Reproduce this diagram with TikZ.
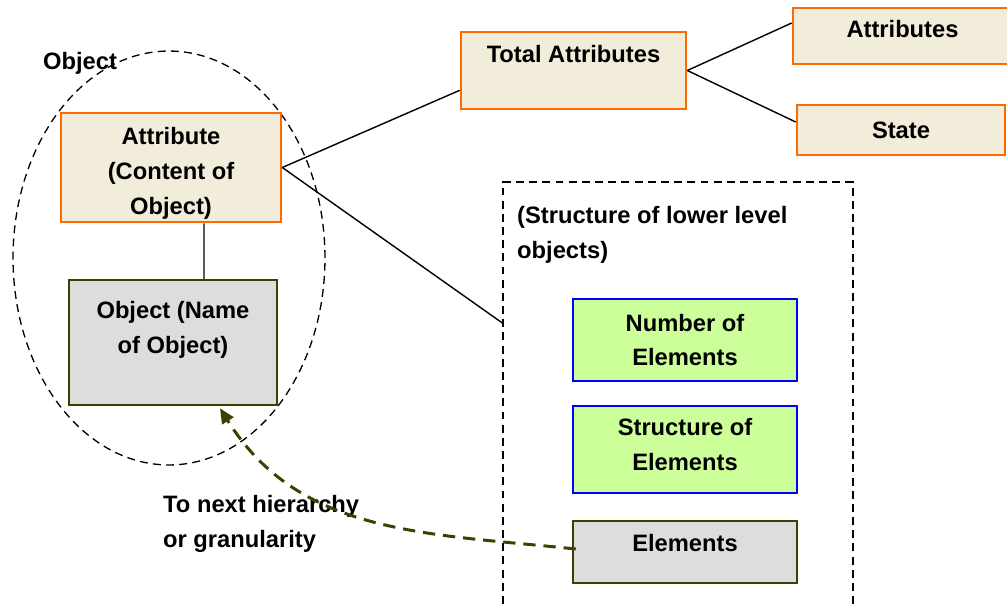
\documentclass[tikz,border=0pt]{standalone}
\usepackage{fontspec}
\setmainfont{Liberation Sans}
\usetikzlibrary{positioning, arrows.meta, shapes.geometric}
\usepackage{xcolor}
\definecolor{xorange}{HTML}{FF6A00}
\definecolor{xcream}{HTML}{F2ECDA}
\definecolor{xgreen}{HTML}{CCFF99}
\definecolor{xblue}{HTML}{0000FF}
\definecolor{xolive}{HTML}{3F3F00}
\definecolor{xgrey}{HTML}{DDDDDD}
\tikzset{
	every node/.style={font=\fontsize{13.5}{19.9}\selectfont\bfseries},
	attrbox/.style={draw=xorange, fill=xcream, line width=1.5pt, align=center},
	elembox/.style={draw=xblue, fill=xgreen, line width=1.3pt, align=center},
	namebox/.style={draw=xolive, fill=xgrey, line width=1.4pt, align=center},
	groupline/.style={line width=0.75pt, dash pattern=on 4.5pt off 3pt},
	link/.style={line width=0.8pt},
	toplabel/.style={anchor=north, align=center, inner sep=2pt},
	hierarchy/.style={xolive, line width=1.7pt, dash pattern=on 7pt off 4.5pt, -{Triangle[length=0.3cm, width=0.26cm]}},
}

\begin{document}
\begin{tikzpicture}[x=0.02cm, y=-0.02cm]
	\useasboundingbox (0,0) rectangle (1007,605);

	\node[groupline, draw, ellipse, minimum width=6.24cm, minimum height=8.28cm, inner sep=0pt] (group) at (169,258) {};
	\node[anchor=west] (grouplabel) at (37,63) {Object};
	\node[attrbox, minimum width=4.4cm, minimum height=2.18cm, label={[toplabel, yshift=-0.24cm]north:{Attribute\\(Content of\\Object)}}] (attr) at (171,167.5) {};
	\node[namebox, minimum width=4.16cm, minimum height=2.5cm, label={[toplabel, yshift=-0.38cm]north:{Object (Name\\of Object)}}] (obj) at (173,342.5) {};

	\node[attrbox, minimum width=4.5cm, minimum height=1.54cm, label={[toplabel, yshift=-0.21cm]north:{Total Attributes}}] (total) at (573.5,70.5) {};
	\node[attrbox, minimum width=4.38cm, minimum height=1.12cm, label={[toplabel, yshift=-0.2cm]north:{Attributes}}] (attrs) at (902.5,36) {};
	\node[attrbox, minimum width=4.16cm, minimum height=1.0cm] (state) at (901,130) {State};

	\node[groupline, draw, minimum width=7cm, minimum height=8.56cm] (lower) at (678,396) {};
	\node[anchor=west, align=left] (lowertitle) at (511,234.5) {(Structure of lower level\\objects)};
	\node[elembox, minimum width=4.48cm, minimum height=1.64cm] (num) at (685,340) {Number of\\Elements};
	\node[elembox, minimum width=4.48cm, minimum height=1.74cm, label={[toplabel, yshift=-0.2cm]north:{Structure of\\Elements}}] (struct) at (685,449.5) {};
	\node[namebox, minimum width=4.48cm, minimum height=1.24cm, label={[toplabel, yshift=-0.21cm]north:{Elements}}] (elems) at (685,552) {};

	\node[anchor=west, align=left] (nextlabel) at (157,523.5) {To next hierarchy\\or granularity};

	\draw[link] (attr.east) -- ([yshift=0.4cm]total.south west);
	\draw[link] (attr.east) -- ([yshift=1.46cm]lower.west);
	\draw[link] (total.east) -- ([yshift=0.26cm]attrs.west);
	\draw[link] (total.east) -- ([yshift=0.16cm]state.west);
	\draw[link] ([xshift=0.66cm]attr.south) -- ([xshift=0.62cm]obj.north);
	\draw[hierarchy] ([xshift=0.08cm, yshift=0.06cm]elems.west) to[out=174, in=-58] ([xshift=0.94cm, yshift=-0.04cm]obj.south);
\end{tikzpicture}
\end{document}
